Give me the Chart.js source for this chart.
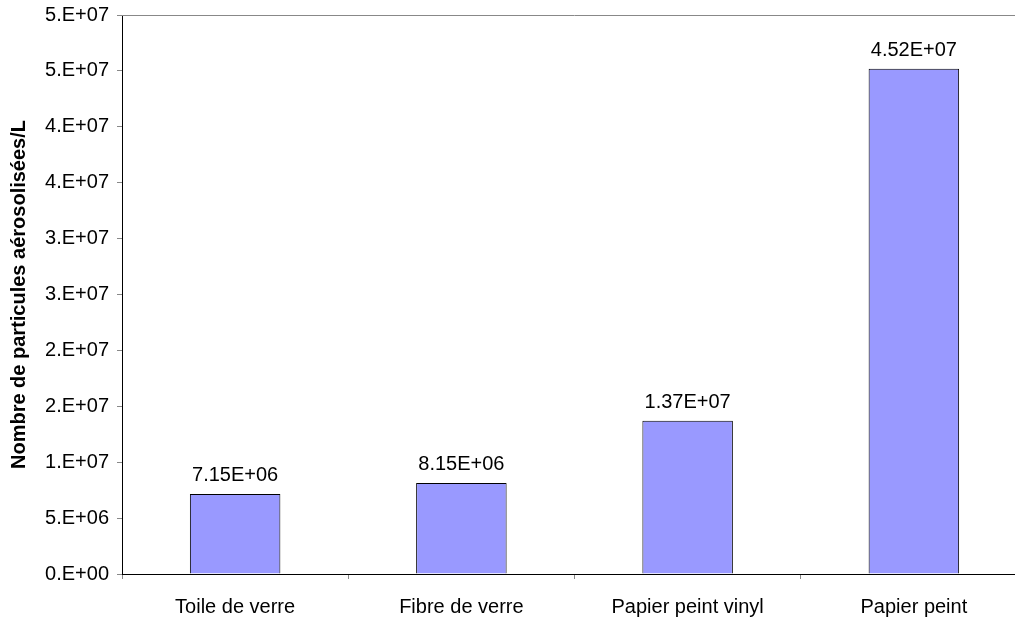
<!DOCTYPE html>
<html>
<head>
<meta charset="utf-8">
<script src="https://cdn.jsdelivr.net/npm/chart.js@4.4.0/dist/chart.umd.min.js"></script>
<style>
  html, body { margin: 0; padding: 0; background: #fff; overflow: hidden; }
  #wrap { width: 1027px; height: 617px; }
</style>
</head>
<body>
<div id="wrap"><canvas id="particlesChart"></canvas></div>
<script>
const categories = ['Toile de verre', 'Fibre de verre', 'Papier peint vinyl', 'Papier peint'];
const particleCounts = [7.15e6, 8.15e6, 1.37e7, 4.52e7];
const yMax = 5e7;
const yStep = 5e6;
const yTitle = 'Nombre de particules aérosolisées/L';

// Excel-style scientific format, e.g. 5.E+07 or 7.15E+06
function sciFormat(v, digits){
  const s = Number(v).toExponential(digits);
  let [mant, exp] = s.split('e');
  if (digits === 0) mant = mant + '.';
  const sign = exp[0] === '-' ? '-' : '+';
  exp = exp.replace(/[+-]/, '').padStart(2, '0');
  return mant + 'E' + sign + exp;
}

const fontFamily = '"Liberation Sans", Arial, sans-serif';

const valueLabels = {
  id: 'valueLabels',
  afterDatasetsDraw(chart){
    const ctx = chart.ctx;
    const meta = chart.getDatasetMeta(0);
    ctx.save();
    ctx.font = '20px ' + fontFamily;
    ctx.fillStyle = '#000';
    ctx.textAlign = 'center';
    ctx.textBaseline = 'alphabetic';
    meta.data.forEach((bar, i) => {
      ctx.fillText(sciFormat(particleCounts[i], 2), bar.x, bar.y - 13);
    });
    ctx.restore();
  }
};

const topBorder = {
  id: 'topBorder',
  afterDraw(chart){
    const {ctx, chartArea} = chart;
    ctx.save();
    ctx.strokeStyle = '#888';
    ctx.lineWidth = 1;
    ctx.beginPath();
    ctx.moveTo(chartArea.left, chartArea.top + 0.5);
    ctx.lineTo(chartArea.right, chartArea.top + 0.5);
    ctx.stroke();
    ctx.restore();
  }
};

new Chart(document.getElementById('particlesChart'), {
  type: 'bar',
  data: {
    labels: categories,
    datasets: [{
      data: particleCounts,
      backgroundColor: '#9999FF',
      borderColor: '#000',
      borderWidth: 1,
      barPercentage: 0.4,
      categoryPercentage: 1.0
    }]
  },
  options: {
    responsive: true,
    maintainAspectRatio: false,
    animation: false,
    layout: { padding: { top: 15, left: 0, right: 0, bottom: 0 } },
    plugins: {
      legend: { display: false },
      tooltip: { enabled: false }
    },
    scales: {
      x: {
        grid: {
          offset: true,
          drawOnChartArea: false,
          drawTicks: true,
          tickLength: 5,
          color: '#888'
        },
        border: { color: '#000', width: 1 },
        ticks: {
          color: '#000',
          padding: 16,
          maxRotation: 0,
          font: { family: fontFamily, size: 20 }
        },
        afterFit(scale){ scale.height = 43; }
      },
      y: {
        min: 0,
        max: yMax,
        grid: {
          drawOnChartArea: false,
          drawTicks: true,
          tickLength: 5,
          color: '#888'
        },
        border: { color: '#000', width: 1 },
        ticks: {
          stepSize: yStep,
          color: '#000',
          padding: 8,
          font: { family: fontFamily, size: 20 },
          callback: (v) => sciFormat(v, 0)
        },
        title: {
          display: true,
          text: yTitle,
          color: '#000',
          padding: { top: 7, bottom: 0 },
          font: { family: fontFamily, size: 20, weight: 'bold' }
        },
        afterFit(scale){
          scale.width = 122;
          scale.paddingTop = 0;
          scale.paddingBottom = 0;
        }
      }
    }
  },
  plugins: [valueLabels, topBorder]
});
</script>
</body>
</html>
